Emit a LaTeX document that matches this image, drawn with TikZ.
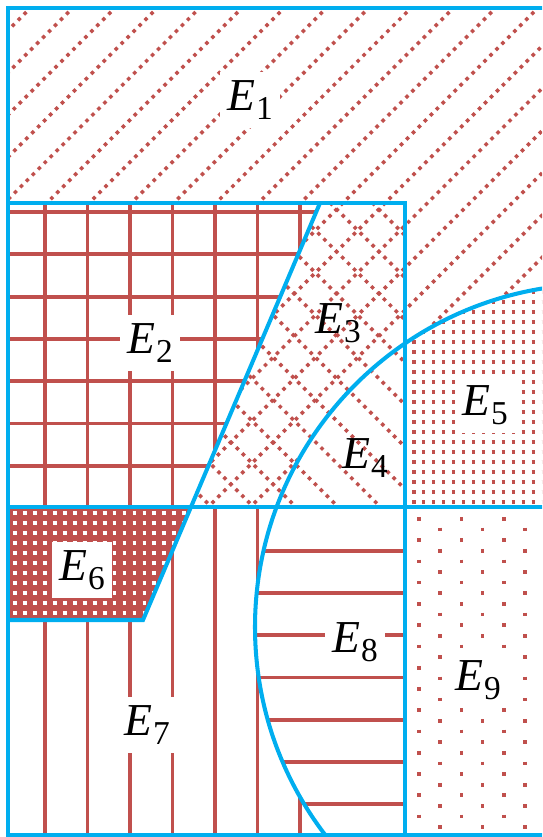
\documentclass[tikz,border=0pt]{standalone}
\usepackage{fontspec}
\setmainfont{Liberation Serif}
\usepackage{tikz}
\usetikzlibrary{positioning}
\definecolor{edgeblue}{RGB}{0,174,239}
\definecolor{hatchred}{RGB}{192,80,77}
\newcommand{\Elab}[1]{\textit{E}\kern0.5pt\raisebox{-5pt}{\fontsize{19}{19}\selectfont #1}}
\tikzset{
  bnd/.style={draw=edgeblue, line width=2.3pt},
  rline/.style={draw=hatchred, line width=2.2pt},
  rdots/.style={draw=hatchred, line width=2pt, line cap=butt,
    dash pattern=on 2pt off 2.8pt},
  fdots/.style={draw=hatchred, line width=2pt, line cap=butt,
    dash pattern=on 2pt off 3.67pt},
  sdots/.style={draw=hatchred, line width=2.1pt, line cap=butt,
    dash pattern=on 2.1pt off 10pt},
  wdots/.style={draw=white, line width=2.2pt, line cap=butt,
    dash pattern=on 2.2pt off 3.47pt},
  lab/.style={fill=white, inner xsep=4pt, inner ysep=5pt,
    font=\fontsize{26}{30}\selectfont},
  labN/.style={lab, fill=none, inner sep=1pt},
}

\begin{document}
\begin{tikzpicture}[x=0.02cm, y=-0.02cm]
  \useasboundingbox (0,0) rectangle (542,837);

  % ---- key points ----
  \coordinate (tl)  at (8,8);
  \coordinate (br)  at (600,835);
  \coordinate (sT)  at (320,203);
  \coordinate (sM)  at (191,507);
  \coordinate (sB)  at (143,620);
  \coordinate (ctr) at (598,627);

  \begin{scope}
  \clip (0,0) rectangle (542,837);

  % ---- E1, E3 : / dotted lines ----
  \begin{scope}
    \clip (8,8) -- (600,8) -- (600,507) -- (sM) -- (sT) -- (8,203) -- cycle;
    \begin{scope}[even odd rule]
    \clip (-50,-50) rectangle (700,900) (ctr) circle[radius=343];
    \foreach \k in {0,...,26}
      \draw[rdots] ({-4+42.3*\k},0) -- ++(-900,900);
    \end{scope}
  \end{scope}

  % ---- E3, E4 : \ dotted lines ----
  \begin{scope}
    \clip (sT) -- (405,203) -- (405,507) -- (sM) -- cycle;
    \foreach \k in {0,...,14}
      \draw[rdots] ({-338+42.3*\k},0) -- ++(900,900);
  \end{scope}

  % ---- E5 : dense dots ----
  \begin{scope}
    \clip (405,8) rectangle (600,507);
    \clip (ctr) circle[radius=343];
    \foreach \k in {0,...,24}
      \draw[fdots] (412,{262+10*\k}) -- (600,{262+10*\k});
  \end{scope}

  % ---- E2 : grid ----
  \begin{scope}
    \clip (8,203) -- (sT) -- (sM) -- (8,507) -- cycle;
    \foreach \k in {0,...,6} {
      \draw[rline] (8,{212+42.3*\k}) -- (330,{212+42.3*\k});
      \draw[rline] ({45+42.5*\k},203) -- ({45+42.5*\k},507);
    }
  \end{scope}

  % ---- E6 : dark with white dots ----
  \begin{scope}
    \clip (8,507) -- (sM) -- (sB) -- (8,620) -- cycle;
    \fill[hatchred] (0,500) rectangle (200,630);
    \foreach \k in {0,...,11}
      \draw[wdots] (13,{513+10*\k}) -- (200,{513+10*\k});
  \end{scope}

  % ---- E7 : vertical lines ----
  \begin{scope}
    \clip (sM) -- (405,507) -- (405,835) -- (8,835) -- (8,620) -- (sB) -- cycle;
    \begin{scope}[even odd rule]
    \clip (-50,-50) rectangle (700,900) (ctr) circle[radius=343];
    \foreach \k in {0,...,8}
      \draw[rline] ({45+42.5*\k},507) -- ({45+42.5*\k},837);
    \end{scope}
  \end{scope}

  % ---- E8 : horizontal lines ----
  \begin{scope}
    \clip (8,507) rectangle (405,835);
    \clip (ctr) circle[radius=343];
    \foreach \k in {0,...,6}
      \draw[rline] (200,{550.6+42.3*\k}) -- (405,{550.6+42.3*\k});
  \end{scope}

  % ---- E9 : sparse staggered dots ----
  \begin{scope}
    \clip (405,507) rectangle (600,835);
    \foreach \j in {0,...,6}
      \draw[sdots] ({419+21.2*\j},{517+10.7*mod(\j,2)}) -- ++(0,330);
  \end{scope}

  % ---- boundaries ----
  \draw[bnd] (tl) rectangle (br);
  \draw[bnd] (8,203) -- (405,203) -- (405,835);
  \draw[bnd] (8,507) -- (600,507);
  \draw[bnd] (sT) -- (sB) -- (8,620);
  \draw[bnd] (ctr) circle[radius=343];
  \end{scope}

  % ---- labels ----
  \node[lab]  (e1) at (250,100) {\Elab{1}};
  \node[lab]  (e2) at (150,343) {\Elab{2}};
  \node[labN] (e3) at (338,323) {\Elab{3}};
  \node[labN] (e4) at (365,458) {\Elab{4}};
  \node[lab]  (e5) at (485,405) {\Elab{5}};
  \node[lab]  (e6) at (82,570)  {\Elab{6}};
  \node[lab]  (e7) at (147,725) {\Elab{7}};
  \node[lab]  (e8) at (355,642) {\Elab{8}};
  \node[lab]  (e9) at (478,680) {\Elab{9}};
\end{tikzpicture}
\end{document}
